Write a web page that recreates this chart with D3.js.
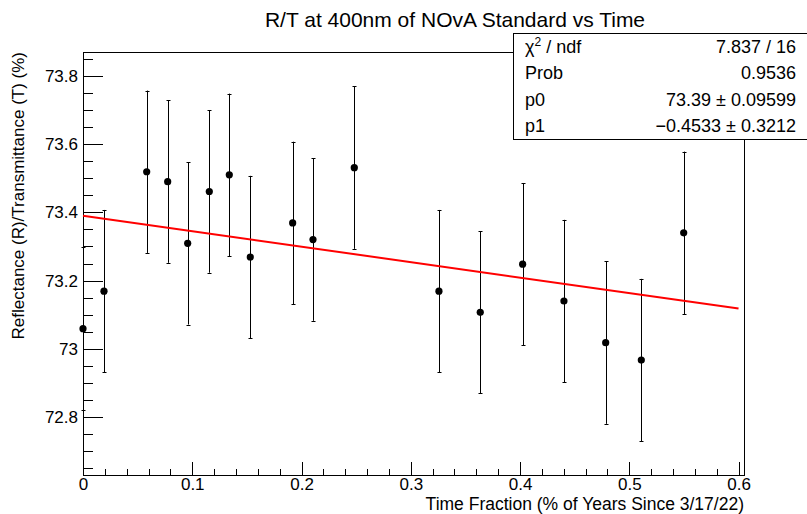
<!DOCTYPE html>
<html>
<head>
<meta charset="utf-8">
<script src="https://cdn.jsdelivr.net/npm/d3@7"></script>
<style>
  body { margin: 0; background: #fff; }
  svg { display: block; font-family: "Liberation Sans", Arial, sans-serif; }
  .tick line { stroke: #000; shape-rendering: crispEdges; }
  .tick text { fill: #000; font-size: 17px; }
</style>
</head>
<body>
<svg id="chart" width="807" height="514"></svg>
<script>
// measured points (time fraction, R/T %, error)
const timeFrac = [0.0, 0.0192, 0.0583, 0.0775, 0.0958, 0.1156, 0.1339, 0.1531, 0.1919,
                  0.2105, 0.2483, 0.3258, 0.3636, 0.4024, 0.4402, 0.4784, 0.5110, 0.5498]
const rtValue  = [73.059, 73.169, 73.519, 73.490, 73.309, 73.461, 73.510, 73.269, 73.369,
                  73.320, 73.531, 73.169, 73.107, 73.248, 73.140, 73.018, 72.967, 73.340]
const rtError  = [0.238, 0.238, 0.238, 0.238, 0.238, 0.238, 0.238, 0.238, 0.238,
                  0.238, 0.238, 0.238, 0.238, 0.238, 0.238, 0.238, 0.238, 0.238]

// fit result
const fitP0 = 73.39
const fitP1 = -0.4533
const fitRange = [0, 0.6]

const statLabels = ["χ", "Prob", "p0", "p1"]
const statValues = ["7.837 / 16", "0.9536", "73.39 ± 0.09599", "\u22120.4533 ± 0.3212"]

const xDomain = [0, 0.605]
const yDomain = [72.63, 73.87]
const xMajorTicks = [0, 0.1, 0.2, 0.3, 0.4, 0.5, 0.6]
const yMajorTicks = [72.8, 73, 73.2, 73.4, 73.6, 73.8]

const frame = { left: 83, right: 744, top: 52, bottom: 475 }

var svg = d3.select("#chart")

var x = d3.scaleLinear().domain(xDomain).range([frame.left, frame.right])
var y = d3.scaleLinear().domain(yDomain).range([frame.bottom, frame.top])

// minor tick positions between the labelled ones
var xMinor = d3.range(0, 0.6001, 0.02).filter(v => Math.abs(v * 10 - Math.round(v * 10)) > 1e-6)
var yMinor = d3.range(72.65, 73.87, 0.05).filter(v => Math.abs(v * 5 - Math.round(v * 5)) > 1e-6)

var fmt = d3.format("")

// y axis
svg.append("g")
    .attr("transform", "translate(" + frame.left + ",0)")
    .call(d3.axisLeft(y).tickValues(yMajorTicks).tickFormat(fmt).tickSize(-20).tickSizeOuter(0).tickPadding(5))
    .call(g => g.select(".domain").remove())
svg.append("g")
    .attr("transform", "translate(" + frame.left + ",0)")
    .call(d3.axisLeft(y).tickValues(yMinor).tickFormat("").tickSize(-10).tickSizeOuter(0))
    .call(g => g.select(".domain").remove())

// x axis
svg.append("g")
    .attr("transform", "translate(0," + frame.bottom + ")")
    .call(d3.axisBottom(x).tickValues(xMajorTicks).tickFormat(fmt).tickSize(-12.7).tickSizeOuter(0).tickPadding(3))
    .call(g => g.select(".domain").remove())
svg.append("g")
    .attr("transform", "translate(0," + frame.bottom + ")")
    .call(d3.axisBottom(x).tickValues(xMinor).tickFormat("").tickSize(-6.3).tickSizeOuter(0))
    .call(g => g.select(".domain").remove())

// frame box
svg.append("rect")
    .attr("x", frame.left + 0.5)
    .attr("y", frame.top + 0.5)
    .attr("width", frame.right - frame.left)
    .attr("height", frame.bottom - frame.top)
    .attr("fill", "none")
    .attr("stroke", "#000")
    .attr("stroke-width", 1)

var points = timeFrac.map((t, i) => ({ x: t, y: rtValue[i], e: rtError[i] }))

// error bars
var bars = svg.append("g").attr("class", "errors")
bars.selectAll("line.bar")
    .data(points)
    .enter().append("line")
    .attr("class", "bar")
    .attr("x1", d => Math.round(x(d.x)) + 0.5)
    .attr("x2", d => Math.round(x(d.x)) + 0.5)
    .attr("y1", d => y(d.y + d.e))
    .attr("y2", d => y(d.y - d.e))
    .attr("stroke", "#000")
bars.selectAll("line.capTop")
    .data(points)
    .enter().append("line")
    .attr("class", "capTop")
    .attr("x1", d => Math.round(x(d.x)) - 1.5)
    .attr("x2", d => Math.round(x(d.x)) + 2.5)
    .attr("y1", d => Math.round(y(d.y + d.e)) + 0.5)
    .attr("y2", d => Math.round(y(d.y + d.e)) + 0.5)
    .attr("stroke", "#000")
bars.selectAll("line.capBot")
    .data(points)
    .enter().append("line")
    .attr("class", "capBot")
    .attr("x1", d => Math.round(x(d.x)) - 1.5)
    .attr("x2", d => Math.round(x(d.x)) + 2.5)
    .attr("y1", d => Math.round(y(d.y - d.e)) + 0.5)
    .attr("y2", d => Math.round(y(d.y - d.e)) + 0.5)
    .attr("stroke", "#000")

// fit line
var line = d3.line().x(d => x(d)).y(d => y(fitP0 + fitP1 * d))
svg.append("path")
    .datum(fitRange)
    .attr("d", line)
    .attr("fill", "none")
    .attr("stroke", "#ff0000")
    .attr("stroke-width", 2)

// markers
svg.append("g")
    .selectAll("circle")
    .data(points)
    .enter().append("circle")
    .attr("cx", d => x(d.x))
    .attr("cy", d => y(d.y))
    .attr("r", 3.6)
    .attr("fill", "#000")

// titles
svg.append("text")
    .attr("x", 455)
    .attr("y", 27)
    .attr("text-anchor", "middle")
    .attr("font-size", 21)
    .text("R/T at 400nm of NOvA Standard vs Time")

svg.append("text")
    .attr("x", frame.right)
    .attr("y", 509.5)
    .attr("text-anchor", "end")
    .attr("font-size", 17.5)
    .text("Time Fraction (% of Years Since 3/17/22)")

svg.append("text")
    .attr("transform", "translate(24," + frame.top + ") rotate(-90)")
    .attr("text-anchor", "end")
    .attr("font-size", 17)
    .text("Reflectance (R)/Transmittance (T) (%)")

// stats box
var stats = svg.append("g").attr("class", "stats")
stats.append("rect")
    .attr("x", 513.5)
    .attr("y", 33.5)
    .attr("width", 300)
    .attr("height", 106)
    .attr("fill", "#fff")
    .attr("stroke", "#000")

var rowH = 26.5
statLabels.forEach(function (label, i) {
    var t = stats.append("text")
        .attr("x", 525)
        .attr("y", 52.5 + i * rowH)
        .attr("font-size", 18)
    if (i == 0) {
        t.append("tspan").text("χ")
        t.append("tspan").attr("dy", -7).attr("font-size", 12).text("2")
        t.append("tspan").attr("dy", 7).text(" / ndf")
    } else {
        t.text(label)
    }
    stats.append("text")
        .attr("x", 796)
        .attr("y", 52.5 + i * rowH)
        .attr("text-anchor", "end")
        .attr("font-size", 18)
        .text(statValues[i])
})
</script>
</body>
</html>
